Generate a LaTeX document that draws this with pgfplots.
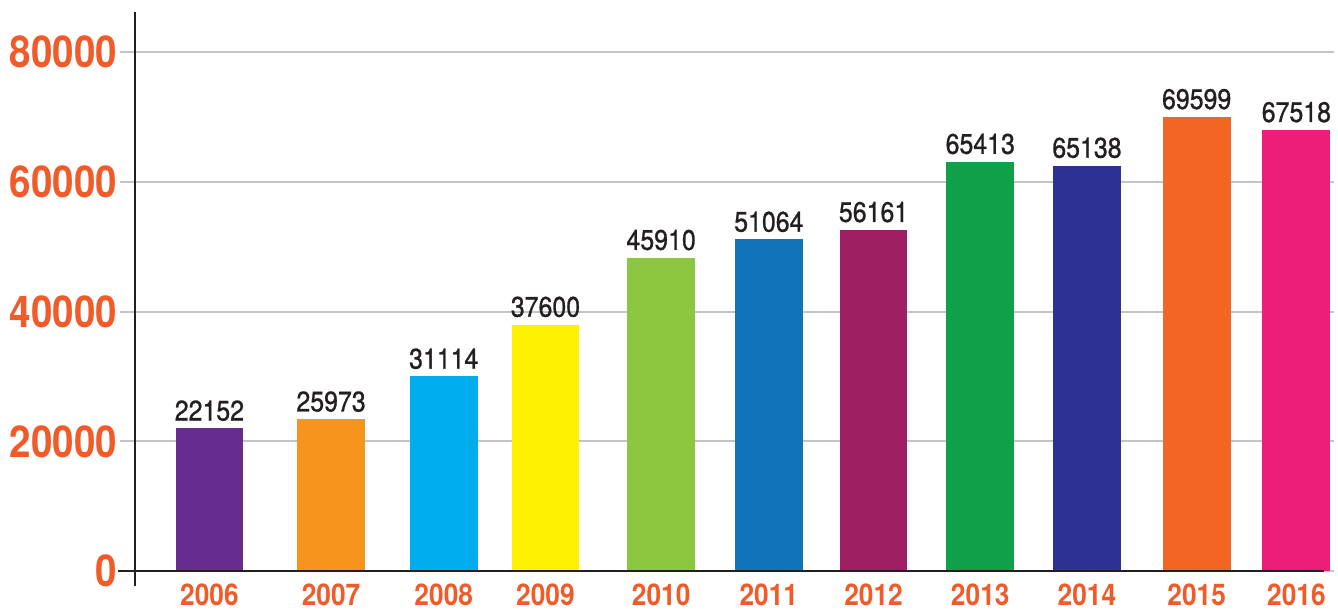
\documentclass[border=0pt]{standalone}
\usepackage{pgfplots}
\pgfplotsset{compat=1.18}
\usepackage{fontspec}
\setmainfont{TeX Gyre Heros}[FakeStretch=0.88]
\newfontfamily\medfont{TeX Gyre Heros}[FakeStretch=0.88, FakeBold=0.9]
\definecolor{tickorange}{HTML}{F15A29}
\definecolor{txtgray}{HTML}{231F20}
\definecolor{gridgray}{HTML}{C3C3C8}
\definecolor{c06}{HTML}{662D91}
\definecolor{c07}{HTML}{F7941D}
\definecolor{c08}{HTML}{00AEEF}
\definecolor{c09}{HTML}{FFF200}
\definecolor{c10}{HTML}{8DC63F}
\definecolor{c11}{HTML}{1174BB}
\definecolor{c12}{HTML}{9E1F63}
\definecolor{c13}{HTML}{10A049}
\definecolor{c14}{HTML}{2E3192}
\definecolor{c15}{HTML}{F26522}
\definecolor{c16}{HTML}{ED1E79}

% x = bar centre (pixel position), y = drawn height, lab = printed value
\pgfplotstableread{
x y lab
210 22000 22152
332 23400 25973
445 30000 31114
547 38000 37600
663 48300 45910
771 51100 51064
876 52600 56161
983 63100 65413
1090 62500 65138
1200 70000 69599
1300 68000 67518
}\bardata

\begin{document}
\begin{tikzpicture}
\begin{axis}[
    scale only axis,
    width=609pt, height=288pt,
    xmin=120, xmax=1338,
    ymin=-2300, ymax=86200,
    axis line style={draw=none},
    clip=false,
    major tick length=0pt,
    ytick={0,20000,40000,60000,80000},
    scaled y ticks=false,
    yticklabel style={font=\fontsize{22}{24}\selectfont\bfseries, text=tickorange,
        inner sep=0pt, xshift=-1pt},
    xtick={210,332,445,547,663,771,876,983,1090,1200,1300},
    xticklabels={2006,2007,2008,2009,2010,2011,2012,2013,2014,2015,2016},
    xticklabel style={font=\fontsize{15}{16}\selectfont\bfseries, text=tickorange,
        inner sep=0pt, yshift=1.5pt},
    /pgf/number format/assume math mode=true,
    /pgf/number format/1000 sep={},
    ymajorgrids,
    grid style={gridgray, line width=1pt},
    ybar, bar width=68, bar shift=0pt,
    nodes near coords,
    point meta=explicit symbolic,
    every node near coord/.append style={font=\fontsize{14.2}{15}\selectfont\medfont, text=txtgray, inner sep=3.5pt},
]
\addplot[fill=c06, draw=none] table[x=x, y=y, meta=lab, skip coords between index={1}{11}] {\bardata};
\addplot[fill=c07, draw=none] table[x=x, y=y, meta=lab, skip coords between index={0}{1}, skip coords between index={2}{11}] {\bardata};
\addplot[fill=c08, draw=none] table[x=x, y=y, meta=lab, skip coords between index={0}{2}, skip coords between index={3}{11}] {\bardata};
\addplot[fill=c09, draw=none] table[x=x, y=y, meta=lab, skip coords between index={0}{3}, skip coords between index={4}{11}] {\bardata};
\addplot[fill=c10, draw=none] table[x=x, y=y, meta=lab, skip coords between index={0}{4}, skip coords between index={5}{11}] {\bardata};
\addplot[fill=c11, draw=none] table[x=x, y=y, meta=lab, skip coords between index={0}{5}, skip coords between index={6}{11}] {\bardata};
\addplot[fill=c12, draw=none] table[x=x, y=y, meta=lab, skip coords between index={0}{6}, skip coords between index={7}{11}] {\bardata};
\addplot[fill=c13, draw=none] table[x=x, y=y, meta=lab, skip coords between index={0}{7}, skip coords between index={8}{11}] {\bardata};
\addplot[fill=c14, draw=none] table[x=x, y=y, meta=lab, skip coords between index={0}{8}, skip coords between index={9}{11}] {\bardata};
\addplot[fill=c15, draw=none] table[x=x, y=y, meta=lab, skip coords between index={0}{9}, skip coords between index={10}{11}] {\bardata};
\addplot[fill=c16, draw=none] table[x=x, y=y, meta=lab, skip coords between index={0}{10}] {\bardata};
% axis lines
\draw[txtgray, line width=1pt] (axis cs:118,0) -- (axis cs:1328,0);
\draw[txtgray, line width=1pt] (axis cs:135,-2300) -- (axis cs:135,86200);
% page extent
\path (axis cs:0,88000) (axis cs:1338,-6300);
\end{axis}
\end{tikzpicture}
\end{document}
